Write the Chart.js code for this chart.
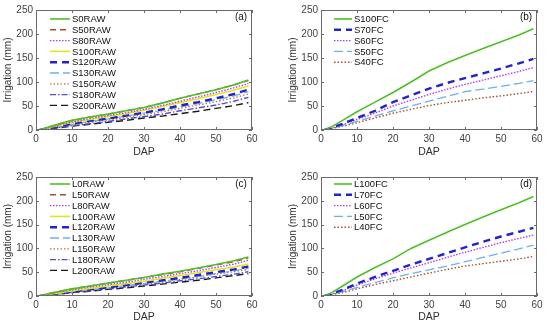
<!DOCTYPE html>
<html>
<head>
<meta charset="utf-8">
<script src="https://cdn.jsdelivr.net/npm/chart.js@4.4.1/dist/chart.umd.min.js"></script>
<style>
  html, body { margin: 0; padding: 0; background: #fff; }
  body { width: 550px; height: 325px; position: relative; overflow: hidden; }
  canvas { position: absolute; }
</style>
</head>
<body>
<canvas id="chartA" width="275" height="160" style="left:0;top:0"></canvas>
<canvas id="chartB" width="275" height="160" style="left:275px;top:0"></canvas>
<canvas id="chartC" width="275" height="165" style="left:0;top:160px"></canvas>
<canvas id="chartD" width="275" height="165" style="left:275px;top:160px"></canvas>
<script>
// days after planting at which values were read
const dap = [1, 3, 6, 10, 15, 20, 25, 30, 35, 40, 45, 50, 55, 59];
const xTicks = [0, 10, 20, 30, 40, 50, 60];
const yTicks = [0, 50, 100, 150, 200, 250];

// (a) sand, RAW scenarios
const s0raw   = [0, 5, 12, 20, 27, 33, 40, 47, 56, 66, 75, 84, 94, 104];
const s50raw  = [0, 5, 12, 20, 27, 33, 40, 47, 56, 66, 75, 84, 94, 103];
const s80raw  = [0, 4, 10, 17, 24, 30, 36, 43, 51, 60, 69, 78, 88, 97];
const s100raw = [0, 4, 9, 16, 22, 28, 34, 41, 49, 57, 65, 74, 83, 92];
const s120raw = [0, 3, 7, 13, 19, 24, 30, 36, 43, 51, 58, 66, 75, 84];
const s130raw = [0, 3, 7, 12, 18, 23, 29, 35, 41, 48, 55, 63, 71, 80];
const s150raw = [0, 3, 6, 11, 16, 21, 26, 32, 38, 45, 52, 59, 67, 75];
const s180raw = [0, 2, 5, 9, 13, 18, 23, 28, 33, 40, 46, 52, 60, 68];
const s200raw = [0, 2, 4, 8, 12, 16, 20, 25, 29, 34, 39, 45, 51, 57];

// (b) sand, FC scenarios
const s100fc = [0, 7, 20, 38, 58, 78, 100, 123, 140, 155, 170, 184, 198, 211];
const s70fc  = [0, 5, 13, 25, 40, 58, 72, 86, 98, 108, 118, 128, 139, 148];
const s60fc  = [0, 4, 11, 22, 35, 50, 62, 74, 85, 95, 104, 113, 122, 130];
const s50fc  = [0, 3, 9, 18, 29, 40, 50, 60, 70, 80, 85, 91, 97, 103];
const s40fc  = [0, 3, 8, 15, 25, 35, 43, 51, 57, 62, 67, 71, 76, 80];

// (c) loam, RAW scenarios
const l0raw   = [0, 4, 9, 15, 21, 27, 33, 39, 46, 52, 59, 66, 74, 82];
const l50raw  = [0, 4, 9, 15, 21, 27, 33, 39, 45, 51, 58, 65, 72, 80];
const l80raw  = [0, 3, 8, 13, 19, 24, 29, 35, 41, 47, 53, 60, 67, 75];
const l100raw = [0, 3, 6, 11, 16, 21, 26, 31, 37, 43, 49, 55, 61, 67];
const l120raw = [0, 2, 5, 9, 14, 18, 23, 28, 33, 38, 44, 50, 56, 62];
const l130raw = [0, 2, 5, 9, 13, 17, 22, 26, 31, 36, 41, 47, 53, 58];
const l150raw = [0, 2, 5, 9, 13, 17, 21, 26, 30, 35, 40, 46, 51, 56];
const l180raw = [0, 2, 4, 7, 11, 15, 19, 23, 27, 32, 36, 41, 46, 51];
const l200raw = [0, 2, 4, 7, 10, 14, 17, 21, 25, 29, 33, 38, 43, 47];

// (d) loam, FC scenarios
const l100fc = [0, 7, 21, 40, 60, 78, 100, 117, 134, 150, 166, 181, 196, 209];
const l70fc  = [0, 5, 13, 26, 40, 53, 66, 78, 90, 102, 114, 125, 135, 143];
const l60fc  = [0, 4, 11, 23, 36, 48, 59, 70, 81, 92, 102, 112, 121, 128];
const l50fc  = [0, 3, 9, 18, 28, 38, 47, 55, 63, 72, 81, 90, 99, 107];
const l40fc  = [0, 3, 7, 15, 24, 32, 40, 48, 56, 63, 68, 73, 78, 83];

const FONT = "'Liberation Sans', Arial, sans-serif";

// line styles, matlab-ish
const styles = {
  green:   { borderColor: '#4fbf26', borderWidth: 1.6, borderDash: [] },
  brown:   { borderColor: '#a0522d', borderWidth: 1.4, borderDash: [6, 4] },
  magenta: { borderColor: '#b23cf0', borderWidth: 1.4, borderDash: [1.5, 1.5] },
  yellow:  { borderColor: '#e3e322', borderWidth: 1.6, borderDash: [] },
  blue:    { borderColor: '#2323c8', borderWidth: 2.4, borderDash: [7, 5] },
  cyan:    { borderColor: '#6cb2e8', borderWidth: 1.3, borderDash: [9, 4] },
  orange:  { borderColor: '#c4743a', borderWidth: 1.3, borderDash: [1.5, 2] },
  purple:  { borderColor: '#4f4fd6', borderWidth: 1.4, borderDash: [6, 2, 1.5, 2] },
  black:   { borderColor: '#1a1a1a', borderWidth: 1.4, borderDash: [7, 4] },
  dotBrown:{ borderColor: '#a0522d', borderWidth: 1.4, borderDash: [1.5, 2] }
};

function series(label, values, style) {
  return Object.assign({
    label,
    data: values.map((v, i) => ({ x: dap[i], y: v })),
    pointRadius: 0,
    tension: 0,
    fill: false
  }, styles[style]);
}

// box, inward ticks, panel tag and legend inside the axes
const framePlugin = {
  id: 'frame',
  afterDatasetsDraw(chart, args, opts) {
    const { ctx, chartArea: a, scales: { x, y } } = chart;
    ctx.save();
    ctx.strokeStyle = '#6a6a6a';
    ctx.lineWidth = 1;
    ctx.setLineDash([]);
    ctx.strokeRect(a.left + 0.5, a.top + 0.5, a.right - a.left - 1, a.bottom - a.top - 1);
    ctx.beginPath();
    x.ticks.forEach(t => {
      const px = Math.round(x.getPixelForValue(t.value)) + 0.5;
      ctx.moveTo(px, a.bottom); ctx.lineTo(px, a.bottom - 3);
      ctx.moveTo(px, a.top); ctx.lineTo(px, a.top + 3);
    });
    y.ticks.forEach(t => {
      const py = Math.round(y.getPixelForValue(t.value)) + 0.5;
      ctx.moveTo(a.left, py); ctx.lineTo(a.left + 3, py);
      ctx.moveTo(a.right, py); ctx.lineTo(a.right - 3, py);
    });
    ctx.stroke();

    ctx.fillStyle = '#111';
    ctx.font = '10px ' + FONT;
    ctx.textAlign = 'center';
    ctx.textBaseline = 'middle';
    ctx.fillText(opts.tag, a.right - 11, a.top + 7);

    // legend
    ctx.textAlign = 'left';
    ctx.font = '9.5px ' + FONT;
    chart.data.datasets.forEach((ds, i) => {
      const ly = a.top + opts.legendTop + i * 10.8;
      const x0 = a.left + opts.legendLeft;
      ctx.strokeStyle = ds.borderColor;
      ctx.lineWidth = ds.borderWidth;
      ctx.setLineDash(ds.borderDash);
      ctx.beginPath();
      ctx.moveTo(x0, ly); ctx.lineTo(x0 + opts.sampleLen, ly);
      ctx.stroke();
      ctx.fillStyle = '#111';
      ctx.fillText(ds.label, x0 + opts.sampleLen + 2, ly + 0.5);
    });
    ctx.restore();
  }
};

function makeChart(id, datasets, tag, pad, xAxisH, legend) {
  return new Chart(document.getElementById(id), {
    type: 'line',
    data: { datasets },
    plugins: [framePlugin],
    options: {
      responsive: false,
      animation: false,
      devicePixelRatio: 1,
      layout: { padding: pad },
      plugins: {
        legend: { display: false },
        tooltip: { enabled: false },
        frame: Object.assign({ tag }, legend)
      },
      scales: {
        x: {
          type: 'linear', min: 0, max: 60,
          afterBuildTicks: s => { s.ticks = xTicks.map(v => ({ value: v })); },
          afterFit: s => { s.height = xAxisH; },
          grid: { display: false, drawTicks: false },
          border: { display: false },
          ticks: { color: '#404040', font: { family: FONT, size: 10 }, padding: 3, maxRotation: 0 },
          title: { display: true, text: 'DAP', color: '#303030', font: { family: FONT, size: 10.5 }, padding: { top: 0, bottom: 2 } }
        },
        y: {
          type: 'linear', min: 0, max: 250,
          afterBuildTicks: s => { s.ticks = yTicks.map(v => ({ value: v })); },
          afterFit: s => { s.width = 36; },
          grid: { display: false, drawTicks: false },
          border: { display: false },
          ticks: { color: '#404040', font: { family: FONT, size: 10 }, padding: 3 },
          title: { display: true, text: 'Irrigation (mm)', color: '#303030', font: { family: FONT, size: 10 }, padding: { top: 2, bottom: 0 } }
        }
      }
    }
  });
}

const rawLegend = { legendTop: 9, legendLeft: 14, sampleLen: 20 };
const fcLegend = { legendTop: 9, legendLeft: 13, sampleLen: 18 };

makeChart('chartA', [
  series('S0RAW', s0raw, 'green'),
  series('S50RAW', s50raw, 'brown'),
  series('S80RAW', s80raw, 'magenta'),
  series('S100RAW', s100raw, 'yellow'),
  series('S120RAW', s120raw, 'blue'),
  series('S130RAW', s130raw, 'cyan'),
  series('S150RAW', s150raw, 'orange'),
  series('S180RAW', s180raw, 'purple'),
  series('S200RAW', s200raw, 'black')
], '(a)', { top: 10, right: 23, left: 0, bottom: 0 }, 30, rawLegend);

makeChart('chartB', [
  series('S100FC', s100fc, 'green'),
  series('S70FC', s70fc, 'blue'),
  series('S60FC', s60fc, 'magenta'),
  series('S50FC', s50fc, 'cyan'),
  series('S40FC', s40fc, 'dotBrown')
], '(b)', { top: 10, right: 13, left: 10, bottom: 0 }, 30, fcLegend);

makeChart('chartC', [
  series('L0RAW', l0raw, 'green'),
  series('L50RAW', l50raw, 'brown'),
  series('L80RAW', l80raw, 'magenta'),
  series('L100RAW', l100raw, 'yellow'),
  series('L120RAW', l120raw, 'blue'),
  series('L130RAW', l130raw, 'cyan'),
  series('L150RAW', l150raw, 'orange'),
  series('L180RAW', l180raw, 'purple'),
  series('L200RAW', l200raw, 'black')
], '(c)', { top: 17, right: 23, left: 0, bottom: 0 }, 29, { legendTop: 7, legendLeft: 14, sampleLen: 20 });

makeChart('chartD', [
  series('L100FC', l100fc, 'green'),
  series('L70FC', l70fc, 'blue'),
  series('L60FC', l60fc, 'magenta'),
  series('L50FC', l50fc, 'cyan'),
  series('L40FC', l40fc, 'dotBrown')
], '(d)', { top: 17, right: 13, left: 10, bottom: 0 }, 29, { legendTop: 7, legendLeft: 13, sampleLen: 18 });
</script>
</body>
</html>
